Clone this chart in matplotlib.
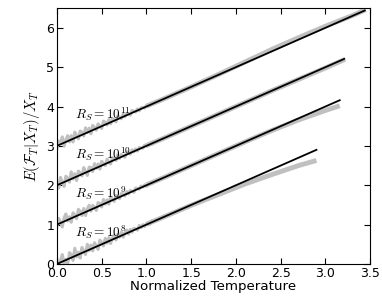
import numpy as np
import matplotlib
matplotlib.use('Agg')
import matplotlib.pyplot as plt

plt.rcParams['mathtext.fontset'] = 'cm'

# series labels / offsets
labels = [r'$R_S=10^{8}$', r'$R_S=10^{9}$', r'$R_S=10^{10}$', r'$R_S=10^{11}$']
offsets = [0, 1, 2, 3]
line_end = [2.9, 3.16, 3.21, 3.44]

# noisy simulated part (x from 0 to 1.2, step 0.02)
noisy = [
    [0.12, -0.08, 0.09, 0.24, 0.02, 0.12, 0.00, 0.29, 0.24, 0.09, 0.40, 0.18, 0.30, 0.15, 0.42,
     0.33, 0.24, 0.50, 0.34, 0.48, 0.33, 0.54, 0.45, 0.37, 0.61, 0.55, 0.46, 0.65, 0.53, 0.67,
     0.52, 0.66, 0.74, 0.61, 0.75, 0.68, 0.81, 0.68, 0.79, 0.86, 0.76, 0.88, 0.81, 0.91, 0.89,
     0.86, 0.98, 0.92, 1.00, 0.95, 1.03, 1.03, 1.01, 1.10, 1.07, 1.13, 1.10, 1.16, 1.16, 1.17, 1.22],
    [0.95, 1.16, 1.06, 0.94, 1.17, 1.27, 1.09, 1.20, 1.06, 1.30, 1.24, 1.15, 1.39, 1.34, 1.23,
     1.41, 1.23, 1.40, 1.49, 1.34, 1.49, 1.44, 1.36, 1.56, 1.54, 1.45, 1.64, 1.52, 1.63, 1.52,
     1.69, 1.65, 1.59, 1.74, 1.69, 1.66, 1.79, 1.78, 1.73, 1.84, 1.78, 1.87, 1.85, 1.82, 1.93,
     1.92, 1.90, 1.98, 1.95, 2.01, 1.97, 2.05, 2.05, 2.04, 2.10, 2.10, 2.14, 2.13, 2.17, 2.18, 2.20],
    [2.08, 1.93, 2.20, 2.07, 1.97, 2.23, 2.18, 2.08, 2.34, 2.16, 2.29, 2.12, 2.36, 2.31, 2.24,
     2.45, 2.34, 2.25, 2.46, 2.45, 2.35, 2.55, 2.43, 2.54, 2.41, 2.61, 2.55, 2.50, 2.66, 2.59,
     2.54, 2.70, 2.68, 2.63, 2.77, 2.68, 2.78, 2.75, 2.71, 2.85, 2.82, 2.79, 2.90, 2.85, 2.92,
     2.87, 2.96, 2.95, 2.94, 3.02, 2.99, 3.04, 3.06, 3.04, 3.11, 3.09, 3.13, 3.16, 3.15, 3.19, 3.20],
    [2.93, 3.13, 3.07, 3.23, 2.99, 3.16, 3.26, 3.10, 3.26, 3.10, 3.35, 3.26, 3.18, 3.38, 3.35,
     3.25, 3.46, 3.34, 3.45, 3.31, 3.52, 3.47, 3.40, 3.56, 3.50, 3.44, 3.63, 3.60, 3.53, 3.67,
     3.56, 3.69, 3.66, 3.61, 3.76, 3.73, 3.69, 3.81, 3.74, 3.83, 3.81, 3.78, 3.90, 3.88, 3.86,
     3.94, 3.89, 3.97, 3.98, 3.96, 4.03, 4.02, 4.03, 4.09, 4.07, 4.12, 4.13, 4.13, 4.18, 4.18, 4.21],
]

# smooth part of simulated curves
smooth_x = [
    [1.0, 1.2, 1.5, 1.8, 2.1, 2.4, 2.7, 2.9],
    [1.0, 1.2, 1.5, 1.8, 2.1, 2.4, 2.7, 3.0, 3.16],
    [1.0, 1.2, 1.5, 1.8, 2.1, 2.4, 2.7, 3.0, 3.22],
    [1.0, 1.2, 1.5, 1.8, 2.1, 2.4, 2.7, 3.0, 3.3, 3.45],
]
smooth_y = [
    [1.01, 1.20, 1.49, 1.76, 2.03, 2.27, 2.50, 2.63],
    [2.01, 2.20, 2.50, 2.80, 3.10, 3.39, 3.66, 3.90, 4.02],
    [3.01, 3.20, 3.50, 3.80, 4.10, 4.40, 4.69, 4.98, 5.20],
    [4.01, 4.20, 4.50, 4.81, 5.13, 5.45, 5.75, 6.04, 6.31, 6.46],
]

fig = plt.figure(figsize=(3.82, 3.01), dpi=100)
ax = fig.add_axes([0.149, 0.123, 0.820, 0.850])

gray = '#c0c0c0'
for i in range(4):
    ny = noisy[i]
    nx = np.linspace(0, 1.2, len(ny))
    ax.plot(nx, ny, color=gray, lw=2.2)
    ax.plot(smooth_x[i], smooth_y[i], color=gray, lw=3.5, solid_capstyle='butt')
    ax.plot([0, line_end[i]], [offsets[i], offsets[i] + line_end[i]], color='black', lw=1.3)
    ax.text(0.2, offsets[i] + 0.8, labels[i], fontsize=9.5, va='center', ha='left')

ax.set_xlim(0, 3.5)
ax.set_ylim(0, 6.5)
ax.set_xticks([0.0, 0.5, 1.0, 1.5, 2.0, 2.5, 3.0, 3.5])
ax.set_yticks([0, 1, 2, 3, 4, 5, 6])
ax.tick_params(direction='in', top=True, right=True, labelsize=9, pad=2, length=4)
ax.set_xlabel('Normalized Temperature', fontsize=9.6, labelpad=0)
ax.set_ylabel(r'$E(\mathcal{F}_T|X_T)/X_T$', fontsize=10.5, labelpad=3)

fig.savefig('out.png', dpi=100)
